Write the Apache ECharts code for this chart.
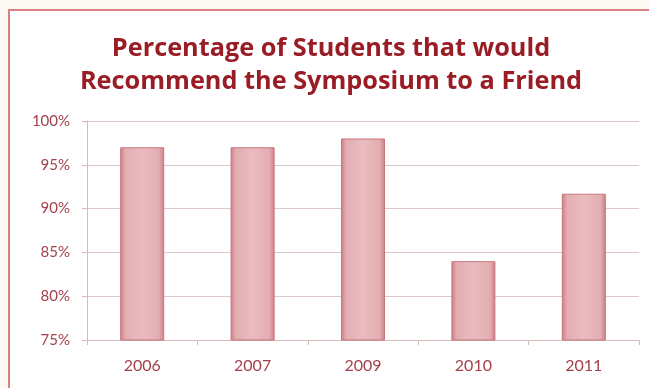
<!DOCTYPE html>
<html><head><meta charset="utf-8">
<script src="https://cdn.jsdelivr.net/npm/echarts@6/dist/echarts.min.js"></script>
<style>html,body{margin:0;padding:0;background:#fdfaf6;}#c{width:649px;height:388px;}</style>
</head><body><div id="c"></div>
<script>
var titleLines = ['Percentage of Students that would', 'Recommend the Symposium to a Friend'];
var categories = ['2006', '2007', '2009', '2010', '2011'];
var values = [97, 97, 98, 84, 91.7];
var yMin = 75, yMax = 100, yStep = 5;

var chart = echarts.init(document.getElementById('c'), null, {renderer: 'canvas'});
var barFill = {
  type: 'linear', x: 0, y: 0, x2: 1, y2: 0,
  colorStops: [
    {offset: 0, color: '#cf7c84'},
    {offset: 0.12, color: '#e3aeb2'},
    {offset: 0.5, color: '#e9bcbf'},
    {offset: 0.88, color: '#e3aeb2'},
    {offset: 1, color: '#cf7c84'}
  ]
};
chart.setOption({
  backgroundColor: '#fdfaf6',
  animation: false,
  graphic: [
    {type: 'rect', z: -10, shape: {x: 9, y: 10, width: 700, height: 450},
     style: {fill: '#ffffff', stroke: '#d98080', lineWidth: 2}},
    {type: 'text', x: 331, y: 32, z: 10,
     style: {text: titleLines.join('\n'), align: 'center', verticalAlign: 'top',
             fontFamily: 'Open Sans', fontWeight: 'bold', fontSize: 25.3, fill: '#9a1d26', lineHeight: 33}}
  ],
  grid: {left: 87, right: 10, top: 121, bottom: 48, containLabel: false},
  xAxis: {
    type: 'category', data: categories,
    axisLine: {lineStyle: {color: '#d9b8b8', width: 1}},
    axisTick: {show: true, alignWithLabel: false, length: 5, lineStyle: {color: '#d9b8b8'}},
    axisLabel: {color: '#a4404c', fontFamily: 'Lato', fontSize: 16, margin: 18}
  },
  yAxis: {
    type: 'value', min: yMin, max: yMax, interval: yStep,
    axisLine: {show: true, lineStyle: {color: '#d9b8b8'}},
    axisTick: {show: true, length: 5, lineStyle: {color: '#d9b8b8'}},
    axisLabel: {color: '#a4404c', fontFamily: 'Lato', fontSize: 15, margin: 17, formatter: '{value}%'},
    splitLine: {lineStyle: {color: '#dcc8c8', width: 1}}
  },
  series: [{
    type: 'bar', data: values, barWidth: 44,
    itemStyle: {color: barFill, borderColor: '#c9737b', borderWidth: 1}
  }]
});
</script></body></html>
